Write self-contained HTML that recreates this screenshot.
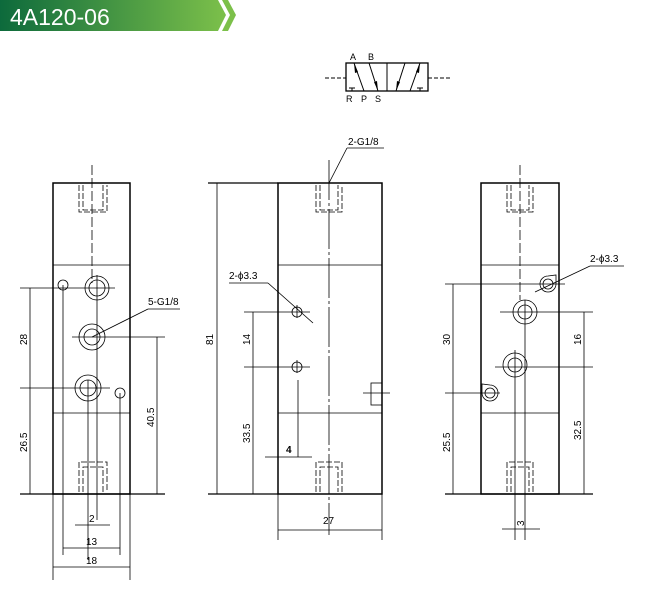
<!DOCTYPE html>
<html><head><meta charset="utf-8"><style>
body{margin:0;background:#fff;width:671px;height:603px;overflow:hidden}
svg{display:block}
text{font-family:"Liberation Sans",sans-serif;fill:#000}
</style></head><body>
<svg width="671" height="603" viewBox="0 0 671 603">
<defs>
<linearGradient id="g" x1="0" x2="1"><stop offset="0" stop-color="#0d6a3c"/><stop offset="1" stop-color="#7cc04a"/></linearGradient>
</defs>
<polygon points="0,0 218,0 226,15 218,31 0,31" fill="url(#g)"/>
<polygon points="222,0 228,0 236,15 228,31 222,31 230,15" fill="#7cc04a"/>
<text x="10" y="25" font-size="23" style="fill:#fff">4A120-06</text>

<g stroke="#000" fill="none" stroke-width="1">
<!-- symbol -->
<rect x="346" y="63" width="82" height="28" stroke-width="1.3"/>
<line x1="387" y1="63" x2="387" y2="91"/>
<line x1="325" y1="78" x2="346" y2="78" stroke-dasharray="4,2"/>
<line x1="428" y1="78" x2="452" y2="78" stroke-dasharray="4,2"/>
<line x1="354" y1="63" x2="364" y2="91"/><line x1="369" y1="63" x2="378" y2="91"/>
<line x1="396" y1="91" x2="405" y2="63"/><line x1="410" y1="91" x2="420" y2="63"/>
<line x1="349" y1="88" x2="355" y2="88"/><line x1="352" y1="88" x2="352" y2="91"/>
<line x1="417" y1="88" x2="423" y2="88"/><line x1="420" y1="88" x2="420" y2="91"/>
</g>
<g fill="#000">
<polygon points="354,63 358,72 355,73"/><polygon points="378,91 374,82 377,81"/>
<polygon points="396,91 397,81 400,82"/><polygon points="420,63 419,73 416,72"/>
</g>
<g font-size="9">
<text x="350" y="60">A</text><text x="368" y="60">B</text>
<text x="346" y="102">R</text><text x="361" y="102">P</text><text x="375" y="102">S</text>
</g>

<!-- LEFT VIEW -->
<g stroke="#000" fill="none" stroke-width="0.8">
<rect x="53" y="183" width="77" height="311" stroke-width="1.5"/>
<line x1="53" y1="265" x2="130" y2="265"/><line x1="53" y1="413" x2="130" y2="413"/>
<line x1="92" y1="165" x2="92" y2="283" stroke-dasharray="10,3"/>
<line x1="97" y1="275" x2="97" y2="520"/><line x1="88" y1="380" x2="88" y2="560"/>
<path d="M79,185v27h28v-27 M83,185v25h20v-25" stroke-dasharray="6,2"/>
<path d="M79,492v-30h28v30 M83,492v-25h20v25" stroke-dasharray="6,2"/>
<circle cx="97" cy="288" r="12"/><circle cx="97" cy="288" r="8"/>
<circle cx="92" cy="337" r="13"/><circle cx="92" cy="337" r="8"/>
<circle cx="88" cy="388" r="13"/><circle cx="88" cy="388" r="8"/>
<circle cx="63" cy="285" r="5"/><circle cx="120" cy="393" r="5"/>
<line x1="63" y1="285" x2="63" y2="555"/><line x1="120" y1="393" x2="120" y2="555"/>
<line x1="20" y1="288" x2="115" y2="288"/><line x1="20" y1="388" x2="110" y2="388"/>
<line x1="72" y1="337" x2="165" y2="337"/>
<line x1="20" y1="494" x2="165" y2="494" stroke-width="1.2"/>
<line x1="30" y1="288" x2="30" y2="494"/><line x1="157" y1="337" x2="157" y2="494"/>
<line x1="92" y1="337" x2="148" y2="309"/><line x1="148" y1="309" x2="180" y2="309"/>
<line x1="53" y1="494" x2="53" y2="580"/><line x1="130" y1="494" x2="130" y2="580"/>
<line x1="75" y1="525" x2="110" y2="525"/>
<line x1="63" y1="548" x2="120" y2="548"/>
<line x1="53" y1="567" x2="130" y2="567"/>
</g>
<g font-size="10">
<text x="148" y="305">5-G1/8</text>
<text transform="translate(27,345) rotate(-90)">28</text>
<text transform="translate(27,452) rotate(-90)">26.5</text>
<text transform="translate(154,427) rotate(-90)">40.5</text>
<text x="89" y="522">2</text><text x="86" y="545">13</text><text x="86" y="564">18</text>
</g>

<!-- MIDDLE VIEW -->
<g stroke="#000" fill="none" stroke-width="0.8">
<rect x="278" y="183" width="104" height="311" stroke-width="1.5"/>
<line x1="208" y1="183" x2="278" y2="183" stroke-width="1.2"/>
<line x1="208" y1="494" x2="278" y2="494" stroke-width="1.2"/>
<line x1="278" y1="265" x2="382" y2="265"/><line x1="278" y1="413" x2="382" y2="413"/>
<line x1="329" y1="160" x2="329" y2="535" stroke-dasharray="40,3,3,3"/>
<path d="M316,185v27h26v-27 M320,185v25h18v-25" stroke-dasharray="6,2"/>
<path d="M316,492v-30h26v30 M320,492v-25h18v25" stroke-dasharray="6,2"/>
<circle cx="297" cy="312" r="5"/><circle cx="297" cy="367" r="5"/>
<line x1="244" y1="312" x2="310" y2="312"/><line x1="244" y1="367" x2="310" y2="367"/>
<line x1="297" y1="305" x2="297" y2="318"/><line x1="297" y1="360" x2="297" y2="373"/>
<line x1="298" y1="380" x2="298" y2="457"/>
<line x1="217" y1="183" x2="217" y2="494"/><line x1="253" y1="312" x2="253" y2="494"/>
<line x1="265" y1="457" x2="312" y2="457"/>
<rect x="371" y="383" width="11" height="22"/><line x1="363" y1="393" x2="390" y2="393"/>
<line x1="329" y1="183" x2="347" y2="148"/><line x1="347" y1="148" x2="384" y2="148"/>
<line x1="229" y1="283" x2="268" y2="283"/><line x1="268" y1="283" x2="313" y2="323"/>
<line x1="278" y1="494" x2="278" y2="540"/><line x1="382" y1="494" x2="382" y2="540"/>
<line x1="278" y1="530" x2="382" y2="530"/>
</g>
<g font-size="10">
<text x="348" y="145">2-G1/8</text>
<text x="229" y="279">2-ϕ3.3</text>
<text transform="translate(213,345) rotate(-90)">81</text>
<text transform="translate(250,345) rotate(-90)">14</text>
<text transform="translate(250,443) rotate(-90)">33.5</text>
<text x="286" y="453" font-weight="bold">4</text>
<text x="323" y="524">27</text>
</g>

<!-- RIGHT VIEW -->
<g stroke="#000" fill="none" stroke-width="0.8">
<rect x="481" y="183" width="78" height="311" stroke-width="1.5"/>
<line x1="481" y1="265" x2="559" y2="265"/><line x1="481" y1="413" x2="559" y2="413"/>
<line x1="520" y1="165" x2="520" y2="300" stroke-dasharray="10,3"/>
<line x1="525" y1="300" x2="525" y2="540"/><line x1="515" y1="350" x2="515" y2="540"/>
<path d="M507,185v27h26v-27 M511,185v25h18v-25" stroke-dasharray="6,2"/>
<path d="M507,492v-30h26v30 M511,492v-25h18v25" stroke-dasharray="6,2"/>
<circle cx="525" cy="312" r="12"/><circle cx="525" cy="312" r="7"/>
<circle cx="515" cy="365" r="12"/><circle cx="515" cy="365" r="7"/>
<circle cx="548" cy="284" r="5"/><path d="M548,276a8,8 0 1,0 8,8v-9z"/>
<circle cx="490" cy="393" r="5"/><path d="M490,385a8,8 0 1,1 -8,8v-9z"/>
<line x1="445" y1="284" x2="565" y2="284"/><line x1="445" y1="393" x2="500" y2="393"/>
<line x1="500" y1="312" x2="593" y2="312"/><line x1="495" y1="367" x2="593" y2="367"/>
<line x1="445" y1="494" x2="593" y2="494" stroke-width="1.2"/>
<line x1="453" y1="284" x2="453" y2="494"/><line x1="584" y1="312" x2="584" y2="494"/>
<line x1="590" y1="266" x2="624" y2="266"/><line x1="590" y1="266" x2="535" y2="292"/>
<line x1="502" y1="529" x2="540" y2="529"/>
</g>
<g font-size="10">
<text x="590" y="262">2-ϕ3.3</text>
<text transform="translate(450,345) rotate(-90)">30</text>
<text transform="translate(450,452) rotate(-90)">25.5</text>
<text transform="translate(581,345) rotate(-90)">16</text>
<text transform="translate(581,440) rotate(-90)">32.5</text>
<text transform="translate(524,526) rotate(-90)">3</text>
</g>
</svg>
</body></html>
